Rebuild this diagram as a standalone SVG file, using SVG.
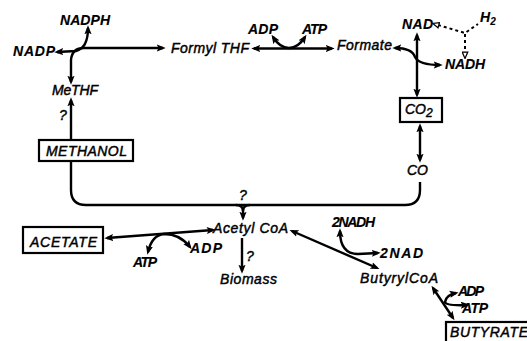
<svg xmlns="http://www.w3.org/2000/svg" width="527" height="341" viewBox="0 0 527 341">
<style>
text{font-family:"Liberation Sans",Arial,sans-serif;font-style:italic;font-size:14px;fill:#000;stroke:#000;stroke-width:0.45px}
.b{font-weight:bold;font-size:14px;stroke-width:0.15px}
.c path{fill:none;stroke:#000;stroke-width:2.4;stroke-linecap:butt;stroke-linejoin:round}
.c .d{stroke-width:2;stroke-dasharray:3 3}
.box{fill:#fff;stroke:#000;stroke-width:2.2}
</style>
<defs>
<marker id="ah" viewBox="0 0 10 8" refX="7" refY="4" markerWidth="9" markerHeight="7.5" markerUnits="userSpaceOnUse" orient="auto-start-reverse"><path d="M0,0 L10,4 L0,8 L2,4 z" fill="#000"/></marker>
<marker id="oh" viewBox="0 0 10 9" refX="2" refY="4.5" markerWidth="8" markerHeight="7" markerUnits="userSpaceOnUse" orient="auto-start-reverse"><path d="M1,1 L9,4.5 L1,8 z" fill="#fff" stroke="#000" stroke-width="1.6"/></marker>
</defs>
<g class="c" id="connectors">
<path d="M254,48.5 L332,48.5" marker-start="url(#ah)" marker-end="url(#ah)"/>
<path d="M273,37 Q280,48 289,48 Q298,48 305,37" marker-start="url(#ah)" marker-end="url(#ah)"/>
<path d="M163,48 L84,48 Q72,48 71,60 L71,82" marker-start="url(#ah)" marker-end="url(#ah)"/>
<path d="M88,28 Q88,48 76,51 L57,52" marker-start="url(#ah)" marker-end="url(#ah)"/>
<path d="M417,35 L417,95" marker-start="url(#ah)" marker-end="url(#ah)"/>
<path d="M395,48 Q412,48 415,57 Q419,65 440,65" marker-start="url(#ah)" marker-end="url(#ah)"/>
<path class="d" d="M438,25 L465,33 L478,24" marker-start="url(#oh)"/>
<path class="d" d="M465,34 L465,53" marker-end="url(#oh)"/>
<path d="M420,126 L420,160" marker-start="url(#ah)" marker-end="url(#ah)"/>
<path d="M71,161 L71,190 Q71,205 86,205 L405,205 Q420,205 420,190 L420,182"/>
<path d="M236,205 Q243,205 243,211 M250,205 Q243,205 243,211"/>
<path d="M243,209 L243,218" marker-end="url(#ah)"/>
<path d="M71,140 L71,100" marker-end="url(#ah)"/>
<path d="M107,238 L213,230" marker-start="url(#ah)" marker-end="url(#ah)"/>
<path d="M148,252 Q152,235 164,234 Q180,234 190,247" marker-start="url(#ah)" marker-end="url(#ah)"/>
<path d="M242,238 L242,271" marker-end="url(#ah)"/>
<path d="M292,231 L377,268" marker-start="url(#ah)" marker-end="url(#ah)"/>
<path d="M340,231 Q340,254 358,254 L378,253" marker-start="url(#ah)" marker-end="url(#ah)"/>
<path d="M433,288 L453,318" marker-start="url(#ah)" marker-end="url(#ah)"/>
<path d="M456,293 Q446,295 445,302 Q446,306 467,305" marker-start="url(#ah)" marker-end="url(#ah)"/>
</g>
<g id="nadph"><text class="b" x="60" y="25" textLength="50">NADPH</text></g>
<g id="nadp"><text class="b" x="13" y="56" textLength="42">NADP</text></g>
<g id="formylthf"><text x="171" y="53" textLength="78">Formyl THF</text></g>
<g id="adp1"><text class="b" x="248" y="34" textLength="30">ADP</text></g>
<g id="atp1"><text class="b" x="302" y="34" textLength="25">ATP</text></g>
<g id="formate"><text x="337" y="50" textLength="55">Formate</text></g>
<g id="nad"><text class="b" x="402" y="29" textLength="31">NAD</text></g>
<g id="h2"><text class="b" x="480" y="22">H<tspan dy="3" font-size="10">2</tspan></text></g>
<g id="nadh"><text class="b" x="445" y="69" textLength="40">NADH</text></g>
<g id="co2"><rect class="box" x="400" y="98" width="42" height="24"/><text x="405" y="114" font-size="15">CO<tspan dy="3" font-size="12">2</tspan></text></g>
<g id="methf"><text x="52" y="95" textLength="46">MeTHF</text></g>
<g id="q1"><text x="59" y="120">?</text></g>
<g id="methanol"><rect class="box" x="39" y="140" width="94" height="21"/><text x="46" y="155.5" textLength="81">METHANOL</text></g>
<g id="co"><text x="407" y="175" font-size="15">CO</text></g>
<g id="q2"><text x="239" y="200">?</text></g>
<g id="acetylcoa"><text x="213" y="233" textLength="75">Acetyl CoA</text></g>
<g id="acetate"><rect class="box" x="23" y="227" width="80" height="26"/><text x="30" y="247" textLength="67">ACETATE</text></g>
<g id="atp2"><text class="b" x="133" y="267" textLength="24">ATP</text></g>
<g id="adp2"><text class="b" x="190" y="253" textLength="32">ADP</text></g>
<g id="q3"><text x="246" y="261">?</text></g>
<g id="biomass"><text x="220" y="284" textLength="57">Biomass</text></g>
<g id="nadh2"><text class="b" x="332" y="227" textLength="43">2NADH</text></g>
<g id="nad2"><text class="b" x="380" y="258" textLength="43">2NAD</text></g>
<g id="butyrylcoa"><text x="360" y="283" textLength="78">ButyrylCoA</text></g>
<g id="adp3"><text class="b" x="458" y="296" textLength="26">ADP</text></g>
<g id="atp3"><text class="b" x="462" y="313" textLength="26">ATP</text></g>
<g id="butyrate"><rect class="box" x="446" y="322" width="100" height="30"/><text x="450" y="337" textLength="78">BUTYRATE</text></g>
</svg>
